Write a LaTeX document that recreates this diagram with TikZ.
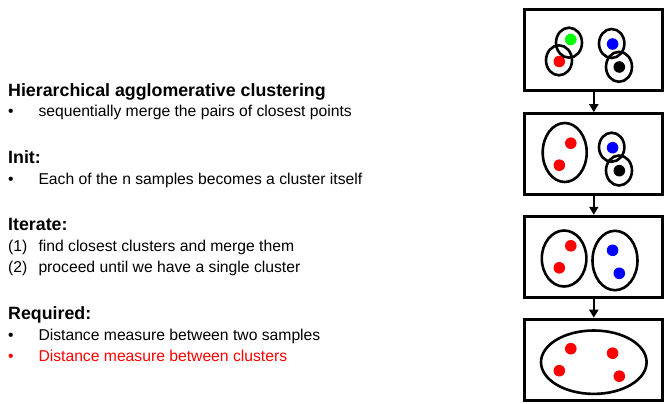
\documentclass[tikz,border=0pt]{standalone}
\usepackage{fontspec}
\setmainfont{Liberation Sans}
\usetikzlibrary{arrows.meta}

\tikzset{
  panel/.style={draw=black,line width=3pt,minimum width=138.3pt,minimum height=81pt,inner sep=0pt},
  ring/.style={draw=black,line width=2.6pt},
  flow/.style={line width=2.3pt,-{Triangle[width=9pt,length=8pt]}},
  head/.style={anchor=base west,inner sep=0pt,font=\fontsize{17.8}{20}\selectfont\bfseries},
  item/.style={anchor=base west,inner sep=0pt,font=\fontsize{15.7}{18}\selectfont},
}

\begin{document}
\begin{tikzpicture}[x=1pt,y=-1pt]
      \useasboundingbox (0,0) rectangle (670,404);
      % left column
      \node[head] (hac)     at (8,96)    {Hierarchical agglomerative clustering};
      \node[item] (hacB)    at (8,116.7) {•};
      \node[item] (hacT)    at (38.3,116.7) {sequentially merge the pairs of closest points};
      \node[head] (init)    at (8,163.4) {Init:};
      \node[item] (initB)   at (8,184)   {•};
      \node[item] (initT)   at (38.3,184) {Each of the n samples becomes a cluster itself};
      \node[head] (iter)    at (8,230.6) {Iterate:};
      \node[item] (iterA)   at (8,251.7) {(1)};
      \node[item] (iterAT)  at (38.3,251.7) {find closest clusters and merge them};
      \node[item] (iterB)   at (8,272.5) {(2)};
      \node[item] (iterBT)  at (38.3,272.5) {proceed until we have a single cluster};
      \node[head] (req)     at (8,319.7) {Required:};
      \node[item] (reqA)    at (8,340.5) {•};
      \node[item] (reqAT)   at (38.3,340.5) {Distance measure between two samples};
      \node[item,red] (reqB)  at (8,361.3) {•};
      \node[item,red] (reqBT) at (38.3,361.3) {Distance measure between clusters};
      % right column
      \node[panel] (box1) at (593.8,50.5)  {};
      \node[panel] (box2) at (593.8,154.2) {};
      \node[panel] (box3) at (593.8,256.8) {};
      \node[panel] (box4) at (593.8,359.7) {};
      \draw[flow] (box1) -- (box2);
      \draw[flow] (box2) -- (box3);
      \draw[flow] (box3) -- (box4);
      % every sample its own cluster
      \begin{scope}[shift={(box1.center)}]
        \fill[green] (-23,-11) circle[radius=5.8pt];
        \fill[red] (-34.5,11) circle[radius=5.8pt];
        \fill[blue] (18.8,-6.5) circle[radius=5.8pt];
        \fill[black] (25.5,16.5) circle[radius=5.8pt];
        \draw[ring] (-24.8,-7.8) ellipse[x radius=13pt,y radius=15pt];
        \draw[ring] (-34.8,9.8) ellipse[x radius=13pt,y radius=15pt];
        \draw[ring] (17.9,-7) ellipse[x radius=12.7pt,y radius=14.5pt];
        \draw[ring] (25.2,16.3) ellipse[x radius=13pt,y radius=15pt];
      \end{scope}
      \begin{scope}[shift={(box2.center)}]
        \fill[red] (-23,-11) circle[radius=5.8pt];
        \fill[red] (-34.5,11) circle[radius=5.8pt];
        \fill[blue] (18.8,-6.5) circle[radius=5.8pt];
        \fill[black] (25.5,16.5) circle[radius=5.8pt];
        \draw[ring] (-29.1,-1.7) ellipse[x radius=22pt,y radius=29.5pt];
        \draw[ring] (17.9,-7) ellipse[x radius=12.7pt,y radius=14.5pt];
        \draw[ring] (25.2,16.3) ellipse[x radius=13pt,y radius=15pt];
      \end{scope}
      \begin{scope}[shift={(box3.center)}]
        \fill[red] (-23,-11) circle[radius=5.8pt];
        \fill[red] (-34.5,11) circle[radius=5.8pt];
        \fill[blue] (18.8,-6.5) circle[radius=5.8pt];
        \fill[blue] (25.5,16.5) circle[radius=5.8pt];
        \draw[ring] (-29.7,1.7) ellipse[x radius=22.3pt,y radius=28pt];
        \draw[ring] (21.2,3.7) ellipse[x radius=22.5pt,y radius=29.7pt];
      \end{scope}
      \begin{scope}[shift={(box4.center)}]
        \fill[red] (-23,-11) circle[radius=5.8pt];
        \fill[red] (-34.5,11) circle[radius=5.8pt];
        \fill[red] (18.8,-6.5) circle[radius=5.8pt];
        \fill[red] (25.5,16.5) circle[radius=5.8pt];
        \draw[ring] (0,2.5) ellipse[x radius=52.8pt,y radius=31.7pt];
      \end{scope}
\end{tikzpicture}
\end{document}
